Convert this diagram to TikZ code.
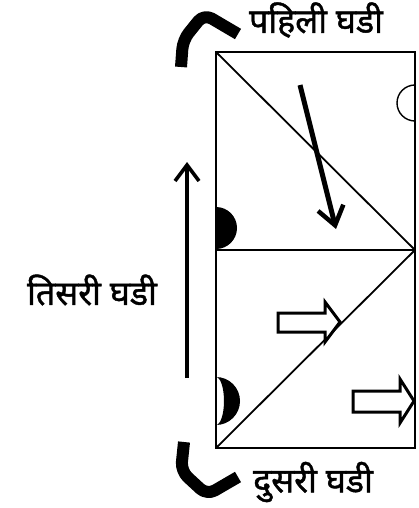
\documentclass[tikz,border=0pt]{standalone}
\usepackage{fontspec}
\newfontfamily\deva[Script=Devanagari,FakeBold=1.2]{Noto Sans}
\usetikzlibrary{arrows.meta}
\tikzset{
  frame/.style={line width=2.2pt},
  diag/.style={line width=1.8pt},
  fold/.style={line width=12pt, rounded corners=9pt, line join=round},
  bigarrow/.style={line width=3.4pt, -{Straight Barb[length=16pt,width=24pt,line width=3.6pt]}},
  slantarrow/.style={line width=5pt, -{Straight Barb[length=18pt,width=26pt,line width=4.5pt]}},
  blockarrow/.style={line width=3pt, line join=miter, fill=white},
  lbl/.style={font=\deva\fontsize{34}{40}\selectfont, inner sep=0pt}
}
\begin{document}
\begin{tikzpicture}[x=1pt,y=-1pt]
\useasboundingbox[fill=white] (0,0) rectangle (418,508);
% rectangle corners
\coordinate (tl) at (216,52);
\coordinate (tr) at (415,52);
\coordinate (bl) at (216,448);
\coordinate (br) at (415,448);
\coordinate (ml) at (216,250);
\coordinate (mr) at (415,250);
\draw[frame] (tl) -- (tr) -- (br) -- (bl) -- cycle;
\draw[frame] (ml) -- (mr);
\draw[diag] (tl) -- (mr);
\draw[diag] (mr) -- (bl);
% half circles
\draw[line width=1.4pt] (415,85) arc[start angle=90,end angle=270,radius=18pt];
\fill (216,207) arc[start angle=90,end angle=-90,radius=21pt] -- cycle;
\fill (216,377) arc[start angle=90,end angle=-90,radius=24pt]
      arc[start angle=-90,end angle=90,x radius=8pt,y radius=24pt] -- cycle;
% labels
\node[lbl] (first) at (316,20) {पहिली घडी};
\node[lbl] (second) at (313,482) {दुसरी घडी};
\node[lbl] (third) at (92,290) {तिसरी घडी};
% fold marks
\draw[fold] (181,67) -- (183,40) -- (204,14) -- (238,34);
\draw[fold] (184,442) -- (181,471) -- (207,495) -- (238,477);
% third fold arrow
\coordinate (va1) at (187,378);
\coordinate (va2) at (187,162);
\draw[bigarrow] (va1) -- (va2);
% slanted arrow
\coordinate (sa1) at (300,85);
\coordinate (sa2) at (336,229);
\draw[slantarrow] (sa1) -- (sa2);
% block arrows
\draw[blockarrow] (278,313) -- (325,313) -- (325,302) -- (340,322) -- (325,342) -- (325,332) -- (278,332) -- cycle;
\draw[blockarrow] (353,391) -- (400,391) -- (400,379) -- (414,401) -- (400,423) -- (400,412) -- (353,412) -- cycle;
\end{tikzpicture}
\end{document}
